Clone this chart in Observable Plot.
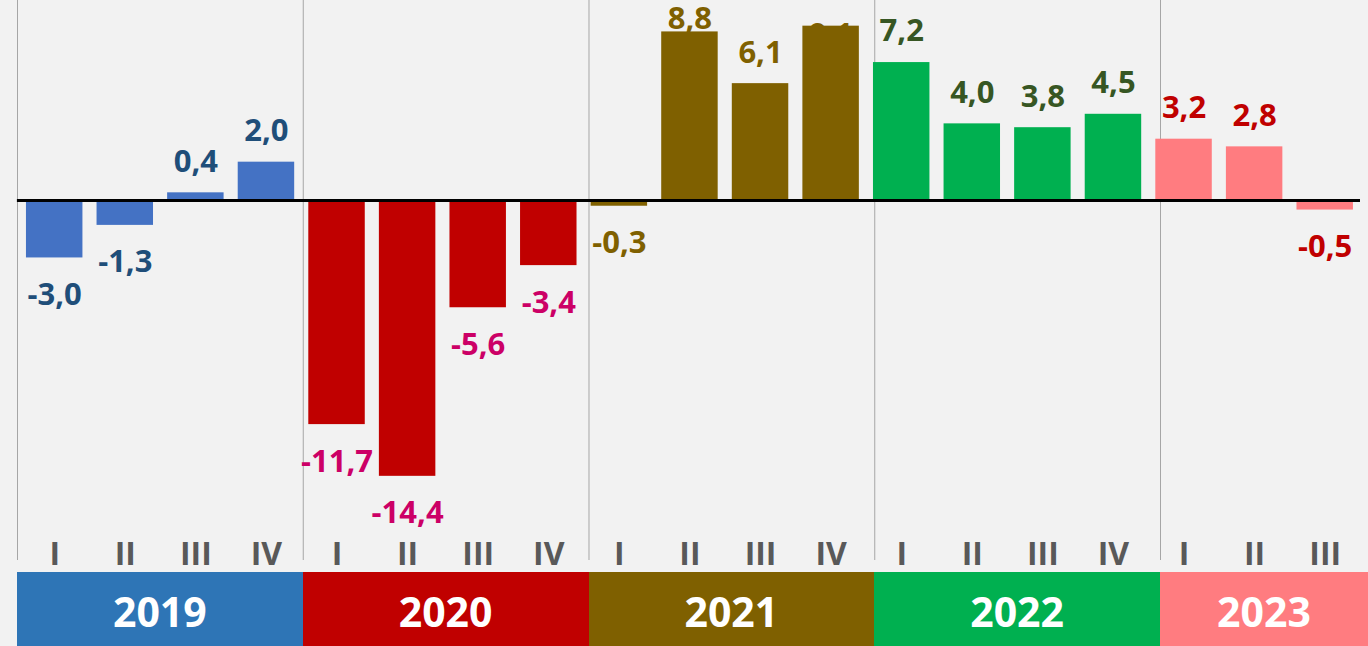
<!DOCTYPE html>
<html>
<head>
<meta charset="utf-8">
<script src="https://cdn.jsdelivr.net/npm/d3@7"></script>
<script src="https://cdn.jsdelivr.net/npm/@observablehq/plot@0.6"></script>
<style>
  html, body { margin: 0; padding: 0; background: #f2f2f2; }
  #wrap { position: relative; width: 1368px; height: 646px; overflow: hidden; font-family: "Open Sans", Lato, sans-serif; }
  #years { position: relative; width: 1368px; height: 74px; }
  .yr { position: absolute; top: 0; height: 74px; display: flex; align-items: center; justify-content: center;
        color: #fff; font-weight: 700; font-size: 41px; font-family: "Open Sans", Lato, sans-serif; padding-top: 3px; box-sizing: border-box; }
</style>
</head>
<body>
<div id="wrap"></div>
<script>
// ---- data ----
const years = ["2019", "2020", "2021", "2022", "2023"];
const quarterYears = ["2019","2019","2019","2019","2020","2020","2020","2020","2021","2021","2021","2021","2022","2022","2022","2022","2023","2023","2023"];
const quarterLabels = ["I","II","III","IV","I","II","III","IV","I","II","III","IV","I","II","III","IV","I","II","III"];
const growth = [-3.0, -1.3, 0.4, 2.0, -11.7, -14.4, -5.6, -3.4, -0.3, 8.8, 6.1, 9.1, 7.2, 4.0, 3.8, 4.5, 3.2, 2.8, -0.5];

// ---- styles ----
const barColor = {"2019": "#4472C4", "2020": "#C00000", "2021": "#7F6000", "2022": "#00B050", "2023": "#FF7C80"};
const labelColor = {"2019": "#1F4E79", "2020": "#CC0066", "2021": "#7F6000", "2022": "#375623", "2023": "#C00000"};
const bandColor = {"2019": "#2E75B6", "2020": "#C00000", "2021": "#7F6000", "2022": "#00B050", "2023": "#FF7C80"};

const rows = growth.map((v, i) => ({
  key: quarterYears[i] + "-" + quarterLabels[i],
  year: quarterYears[i],
  q: quarterLabels[i],
  v
}));
const keys = rows.map(d => d.key);
const yearStarts = years.map(y => rows.find(d => d.year === y).key);

const W = 1368, H = 572, mTop = 0, mBottom = 32, mLeft = 18.9, mRight = 8;
const yTop = 10.44, yBottom = -17.75;
const pxPerUnit = (H - mTop - mBottom) / (yTop - yBottom);
const step = (W - mLeft - mRight) / keys.length;
// the year axis (separators + year band) has its own category width
const yearLeft = 17, yearStep = 285.75;
const labelCeil = yTop - 50 / pxPerUnit;     // outside-end labels may not rise above this
const insideAbove = 9.0;                       // labels of bars taller than this sit inside the bar end
const fmt = v => v.toFixed(1).replace(".", ",");

const pos = rows.filter(d => d.v >= 0 && d.v <= insideAbove);
const inside = rows.filter(d => d.v > insideAbove);
const neg = rows.filter(d => d.v < 0);
const labelStyle = {fontSize: 31, fontWeight: 700, lineAnchor: "middle"};

const chart = Plot.plot({
  width: W, height: H,
  marginTop: mTop, marginBottom: mBottom, marginLeft: mLeft, marginRight: mRight,
  x: {domain: keys, paddingInner: 0.2, paddingOuter: 0.1, round: false, axis: null},
  y: {domain: [yBottom, yTop], axis: null},
  color: {type: "identity"},
  style: {background: "#f2f2f2", fontFamily: "'Open Sans', Lato, sans-serif", overflow: "visible"},
  marks: [
    ...yearStarts.map((k, i) => Plot.ruleX([k], {
      x: d => d,
      dx: (yearLeft + i * yearStep) - (mLeft + (4 * i + 0.5) * step),
      stroke: "#a6a6a6", strokeWidth: 1, insetBottom: -20
    })),
    // label that falls inside its bar end: drawn beneath the bar, as in the original
    Plot.text(inside, {x: "key", y: "v", text: d => fmt(d.v),
      fill: d => labelColor[d.year], dy: 9, ...labelStyle}),
    Plot.barY(rows, {x: "key", y: "v", fill: d => barColor[d.year]}),
    Plot.text(pos, {x: "key", y: d => Math.min(d.v, labelCeil), text: d => fmt(d.v),
      fill: d => labelColor[d.year], dy: -31, ...labelStyle}),
    Plot.text(neg, {x: "key", y: "v", text: d => fmt(d.v),
      fill: d => labelColor[d.year], dy: 37, ...labelStyle}),
    Plot.ruleY([0], {stroke: "#000", strokeWidth: 3, insetLeft: -2}),
    Plot.axisX({domain: keys, tickFormat: k => k.split("-")[1], tickSize: 0, tickPadding: 2,
      fontSize: 32, fontWeight: 700, color: "#595959", label: null})
  ]
});

const wrap = document.getElementById("wrap");
wrap.appendChild(chart);

// year band row below the SVG, on the year axis
const band = document.createElement("div");
band.id = "years";
years.forEach((y, i) => {
  const left = yearLeft + i * yearStep;
  const right = i === years.length - 1 ? W : yearLeft + (i + 1) * yearStep;
  const div = document.createElement("div");
  div.className = "yr";
  div.style.left = left + "px";
  div.style.width = (right - left) + "px";
  div.style.background = bandColor[y];
  div.textContent = y;
  band.appendChild(div);
});
wrap.appendChild(band);
</script>
</body>
</html>
